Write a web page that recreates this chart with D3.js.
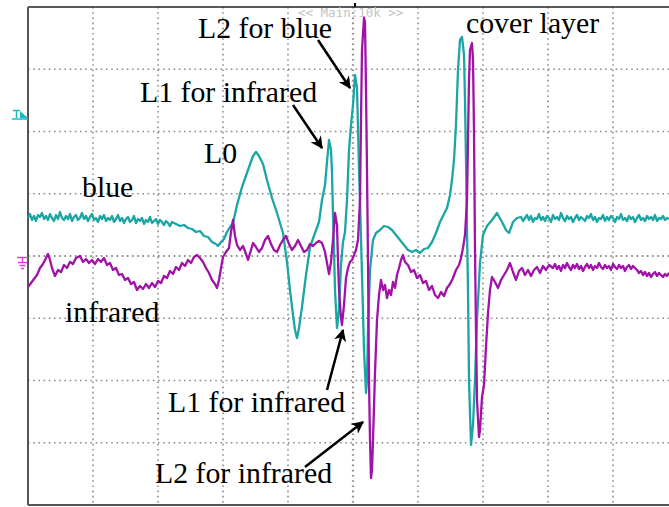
<!DOCTYPE html>
<html>
<head>
<meta charset="utf-8">
<script src="https://cdn.jsdelivr.net/npm/d3@7"></script>
<style>
  body { margin: 0; background: #fff; }
  .label { font-family: "Liberation Serif", "Times New Roman", serif; font-size: 29.8px; fill: #000; }
  .grid line { stroke: #8c8c8c; stroke-width: 1.6; stroke-dasharray: 1.6,3.6; }
  .trace { fill: none; stroke-width: 2.3; stroke-linejoin: round; }
</style>
</head>
<body>
<script>
// scope capture: time in samples (65 per division), level in ADC counts (62 per division)
// flat stretches are sampled every 2 samples, the events by hand at their turning points
var blueLeft = [38,42,36,40,35,41,39,43,37,40,36,42,38,35,41,37,44,38,36,40,37,42,35,39,41,36,38,43,37,40,35,39,42,36,38,34,40,37,41,35,38,36,40,34,37,41,35,38,33,37,39,34,36,40,33,37,35,38,32,36,34,39,33,35,37,32,36,34,31,35,33,30,34];
var blueEvents = [[148,32],[152,30],[156,31],[160,28],[164,27],[168,24],[172,25],[176,20],[180,19],[184,14],[188,12],[190,10],[193,14],[196,17],[199,24],[202,29],[205,33],[209,51],[214,69],[220,86],[225,100],[228,104],[231,100],[235,92],[239,76],[244,58],[249,43],[255,23],[259,-6],[262,-34],[265,-59],[267,-74],[269,-82],[271,-72],[274,-51],[278,-19],[282,9],[287,23],[291,34],[294,56],[297,71],[299,94],[301,116],[303,106],[304,83],[305,41],[306,6],[307,-34],[309,-72],[311,-54],[313,-9],[315,14],[317,24],[319,56],[321,106],[323,131],[325,151],[327,181],[329,168],[330,129],[331,86],[332,56],[334,-19],[336,-94],[338,-137],[339,-124],[340,-74],[342,-14],[345,16],[348,23],[352,26],[356,30],[360,29],[364,26],[368,21],[372,16],[376,11],[380,6],[384,4],[388,6],[392,3],[396,7],[400,8],[404,14],[408,23],[412,34],[416,42],[419,48],[422,61],[424,76],[426,96],[428,131],[430,186],[432,216],[434,219],[436,201],[437,156],[438,96],[439,26],[440,-34],[441,-124],[443,-189],[445,-169],[447,-124],[449,-64],[452,-7],[455,21],[459,30],[464,36],[469,43],[474,34],[478,26],[481,23],[485,34],[489,38]];
var blueRight = [39,35,38,41,36,40,34,38,37,42,36,39,35,40,38,34,41,37,39,36,43,38,35,40,37,39,34,38,41,36,39,37,35,40,38,42,36,39,34,38,37,41,35,39,36,40,38,34,39,37,42,36,38,35,40,37,39,34,38,41,36,38,35,40,37,39,36,41,35,38,37,40,36,38,37];

var infraredEvents = [[0,-31],[3,-27],[6,-23],[9,-19],[12,-12],[15,-8],[18,-2],[20,2],[22,-4],[24,-12],[27,-20],[30,-14],[33,-16],[36,-9],[39,-12],[42,-6],[45,-8],[48,-2],[52,0],[55,-6],[58,-3],[61,-7],[64,-4],[67,-8],[70,-3],[73,-6],[76,-2],[79,-9],[82,-7],[85,-14],[88,-12],[91,-19],[94,-18],[97,-24],[100,-22],[103,-28],[106,-26],[109,-34],[112,-30],[115,-33],[118,-28],[121,-32],[124,-27],[127,-31],[130,-25],[133,-27],[136,-20],[139,-22],[142,-15],[145,-18],[148,-11],[151,-14],[154,-7],[157,-10],[160,-4],[163,-7],[166,-1],[169,1],[172,-2],[175,-6],[178,-12],[181,-17],[184,-24],[187,-28],[189,-32],[191,-24],[193,-12],[195,-1],[198,4],[201,8],[203,24],[205,36],[207,20],[209,11],[212,6],[215,10],[218,2],[220,-4],[223,6],[225,13],[228,9],[231,4],[234,8],[237,16],[240,20],[243,12],[246,6],[249,4],[252,11],[255,16],[258,20],[261,12],[264,6],[267,10],[270,16],[273,10],[276,4],[279,6],[282,12],[285,10],[288,13],[291,15],[294,13],[297,4],[299,-7],[301,-18],[303,-6],[305,16],[307,43],[309,31],[310,-4],[311,-34],[313,-62],[314,-69],[316,-49],[318,-22],[320,-12],[322,-6],[324,-4],[326,1],[328,6],[330,16],[332,56],[333,136],[334,206],[336,238],[337,234],[338,166],[339,86],[340,-4],[341,-124],[342,-184],[343,-222],[344,-214],[345,-184],[347,-117],[349,-64],[351,-39],[353,-24],[355,-34],[357,-29],[359,-42],[361,-34],[363,-39],[365,-26],[367,-32],[369,-19],[371,-12],[373,-4],[375,1],[377,-6],[380,-9],[383,-16],[386,-14],[389,-22],[392,-19],[395,-27],[398,-25],[401,-34],[404,-30],[407,-39],[410,-42],[413,-36],[416,-40],[419,-32],[422,-28],[425,-22],[428,-14],[431,-9],[433,-2],[435,8],[437,21],[439,56],[440,116],[441,176],[442,206],[444,213],[445,196],[446,126],[447,6],[448,-74],[449,-144],[451,-181],[452,-174],[454,-141],[456,-129],[458,-91],[460,-57],[462,-34],[464,-21],[467,-26],[470,-32],[473,-24],[476,-19],[479,-14],[482,-7],[485,-16],[488,-24],[491,-15],[494,-12],[497,-19],[500,-14],[503,-20],[506,-14],[509,-11],[512,-17],[515,-10],[518,-14],[521,-9]];
var infraredRight = [-12,-8,-13,-10,-15,-9,-12,-7,-11,-14,-9,-12,-8,-13,-10,-15,-11,-8,-12,-9,-14,-10,-12,-7,-11,-13,-9,-12,-10,-14,-8,-11,-13,-9,-12,-10,-15,-11,-9,-13,-10,-12,-14,-17,-15,-19,-16,-20,-17,-21,-18,-16,-20,-17,-19,-21,-18,-20,-17];

var labelTexts = ["L2 for blue", "L1 for infrared", "L0", "blue", "infrared", "L1 for infrared", "L2 for infrared", "cover layer"];
var labelAt = [[170,218],[112,154],[176,93],[54,59],[37,-66],[140,-156],[127,-227],[438,223]];
var arrowFrom = [[290,216],[265,151],[299,-134],[277,-211]];
var arrowTo = [[322,168],[294,108],[315,-74],[335,-166]];

var divisionsX = 10, divisionsY = 8;

function sampled(start, step, vals) {
  return vals.map(function(v, i) { return [start + i * step, v]; });
}
var blueTrace = sampled(0, 2, blueLeft).concat(blueEvents, sampled(493, 2, blueRight));
var infraredTrace = infraredEvents.concat(sampled(525, 2, infraredRight));

var W = 669, H = 507;
var x = d3.scaleLinear().domain([0, 650]).range([28, 678]);
var y = d3.scaleLinear().domain([-249, 249]).range([505, 7]);

var svg = d3.select("body").append("svg")
    .attr("width", W)
    .attr("height", H);

svg.append("defs").append("marker")
    .attr("id", "head")
    .attr("viewBox", "0 0 10 10")
    .attr("refX", 9).attr("refY", 5)
    .attr("markerWidth", 5).attr("markerHeight", 5)
    .attr("markerUnits", "strokeWidth")
    .attr("orient", "auto")
  .append("path")
    .attr("d", "M0,0L10,5L0,10L3,5Z")
    .attr("fill", "#000");

// grid
var grid = svg.append("g").attr("class", "grid");
var xt = d3.range(1, divisionsX).map(function(i) { return i * 650 / divisionsX; });
var yt = d3.range(1, divisionsY).map(function(i) { return -249 + i * 498 / divisionsY; });

grid.selectAll("line.v").data(xt).enter().append("line")
    .attr("class", "v")
    .attr("x1", function(d) { return x(d); }).attr("x2", function(d) { return x(d); })
    .attr("y1", y(249)).attr("y2", y(-249))
    .style("stroke-width", function(d) { return d === 325 ? 2.2 : 1.6; });

grid.selectAll("line.h").data(yt).enter().append("line")
    .attr("class", "h")
    .attr("x1", x(0)).attr("x2", x(650))
    .attr("y1", function(d) { return y(d); }).attr("y2", function(d) { return y(d); })
    .style("stroke-width", function(d) { return d === 0 ? 2.2 : 1.6; });

// frame
svg.append("line").attr("x1", x(0)).attr("x2", W).attr("y1", y(249)).attr("y2", y(249))
    .attr("stroke", "#222").attr("stroke-width", 1.5);
svg.append("line").attr("x1", x(0)).attr("x2", x(0)).attr("y1", y(249)).attr("y2", y(-249))
    .attr("stroke", "#555").attr("stroke-width", 2);
svg.append("line").attr("x1", x(0)).attr("x2", W).attr("y1", y(-249)).attr("y2", y(-249))
    .attr("stroke", "#555").attr("stroke-width", 2);
svg.append("line").attr("x1", x(327)).attr("x2", x(327)).attr("y1", 3).attr("y2", y(249))
    .attr("stroke", "#000").attr("stroke-width", 2);

svg.append("text")
    .attr("x", x(270)).attr("y", 17)
    .style("font-family", "DejaVu Sans Mono, monospace")
    .style("font-size", "12.5px")
    .style("fill", "#c4c4c4")
    .text("<< Main:10k >>");

// channel markers
var trig = svg.append("g").attr("fill", "#19b8c4").attr("stroke", "#19b8c4");
trig.append("path").attr("d", "M13,110.5H20M16.5,110.5V118").attr("stroke-width", 1.5).attr("fill", "none");
trig.append("path").attr("d", "M20,111L28,118H20Z").attr("stroke", "none");
trig.append("path").attr("d", "M12,119H28").attr("stroke-width", 1.5).attr("fill", "none");

svg.append("path")
    .attr("d", "M17,257.5H28M22.5,257.5V262M18,262.5H27M19.5,265.5H25.5M21,268.5H24")
    .attr("stroke", "#e040e0").attr("stroke-width", 1.5).attr("fill", "none");

// traces
var line = d3.line()
    .x(function(d) { return x(d[0]); })
    .y(function(d) { return y(d[1]); });

svg.append("path").datum(blueTrace)
    .attr("class", "trace")
    .attr("stroke", "#1ba5a5")
    .attr("d", line);

svg.append("path").datum(infraredTrace)
    .attr("class", "trace")
    .attr("stroke", "#a012a8")
    .attr("d", line);

// annotations
svg.selectAll("line.arrow").data(arrowFrom).enter().append("line")
    .attr("class", "arrow")
    .attr("x1", function(d) { return x(d[0]); })
    .attr("y1", function(d) { return y(d[1]); })
    .attr("x2", function(d, i) { return x(arrowTo[i][0]); })
    .attr("y2", function(d, i) { return y(arrowTo[i][1]); })
    .attr("stroke", "#000")
    .attr("stroke-width", 2.5)
    .attr("marker-end", "url(#head)");

svg.selectAll("text.label").data(labelTexts).enter().append("text")
    .attr("class", "label")
    .attr("x", function(d, i) { return x(labelAt[i][0]); })
    .attr("y", function(d, i) { return y(labelAt[i][1]); })
    .text(function(d) { return d; });
</script>
</body>
</html>
